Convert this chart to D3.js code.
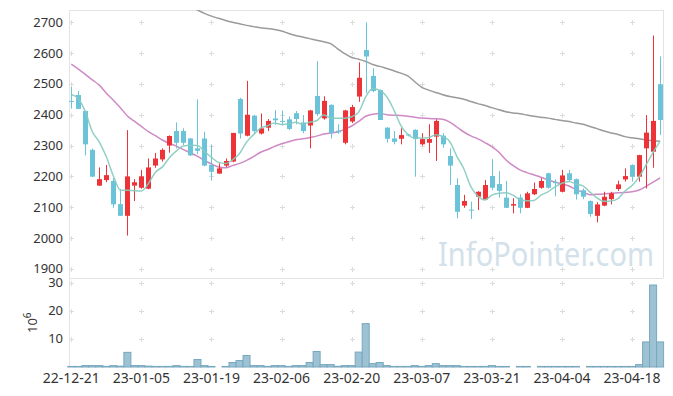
<!DOCTYPE html>
<html><head><meta charset="utf-8">
<script src="https://cdn.jsdelivr.net/npm/d3@7"></script>
<style>body{margin:0;background:#fff}svg{display:block}</style>
</head><body><svg id="c" width="673" height="396"></svg>
<script>
// ---- data ----
const dateLabels = ["22-12-21","23-01-05","23-01-19","23-02-06","23-02-20","23-03-07","23-03-21","23-04-04","23-04-18"];
const dateLabelIdx = [0,10,20,30,40,50,60,70,80];
const priceTicks = [1900,2000,2100,2200,2300,2400,2500,2600,2700];
const volTicks = [10,20,30];
const open  = [2445,2464,2412,2286,2170,2188,2185,2110,2072,2170,2163,2160,2235,2255,2300,2347,2347,2323,2291,2323,2237,2209,2235,2248,2451,2332,2397,2339,2358,2388,2380,2385,2405,2375,2365,2461,2388,2432,2348,2309,2378,2459,2610,2526,2480,2358,2323,2322,2336,2351,2304,2309,2329,2332,2266,2172,2105,2092,2134,2125,2201,2175,2131,2105,2131,2098,2142,2163,2210,2182,2150,2210,2191,2155,2120,2072,2105,2126,2159,2190,2237,2199,2291,2280,2499];
const high  = [2490,2477,2413,2290,2229,2237,2194,2159,2350,2191,2221,2258,2276,2291,2333,2375,2356,2325,2450,2345,2302,2242,2258,2341,2455,2510,2400,2404,2386,2415,2414,2394,2412,2399,2416,2574,2460,2434,2369,2416,2432,2570,2700,2551,2482,2360,2347,2356,2338,2353,2340,2369,2385,2340,2291,2194,2140,2118,2152,2188,2256,2217,2185,2129,2142,2150,2180,2194,2212,2190,2221,2221,2193,2161,2122,2116,2150,2150,2186,2226,2239,2270,2399,2657,2589];
const low   = [2420,2419,2268,2198,2169,2181,2098,2072,2008,2120,2160,2158,2228,2248,2277,2291,2302,2266,2272,2233,2186,2208,2230,2246,2323,2330,2337,2336,2347,2367,2365,2350,2369,2340,2291,2396,2384,2323,2338,2304,2373,2442,2470,2473,2383,2310,2304,2304,2330,2199,2300,2276,2250,2293,2172,2064,2098,2062,2091,2123,2155,2131,2097,2080,2080,2097,2139,2160,2160,2135,2148,2183,2125,2126,2069,2051,2103,2109,2153,2183,2183,2183,2161,2228,2334];
const close = [2444,2419,2304,2199,2191,2204,2109,2072,2200,2181,2200,2229,2258,2286,2331,2309,2309,2268,2283,2235,2215,2226,2250,2341,2339,2400,2347,2356,2380,2382,2377,2354,2386,2347,2414,2402,2445,2341,2343,2414,2425,2520,2589,2477,2383,2322,2312,2334,2333,2321,2321,2321,2380,2304,2235,2085,2120,2090,2150,2172,2163,2153,2098,2110,2098,2145,2159,2185,2163,2178,2203,2188,2142,2134,2078,2109,2134,2145,2174,2201,2199,2269,2342,2380,2383];
const volume = [0.2,0.2,0.5,0.5,0.5,0.2,0.5,0.3,5.2,0.5,0.5,0.3,0.2,0.2,0.2,0.5,0.2,0.2,2.65,0.5,0.2,0,0.2,1.6,2.3,4.1,0.5,0.5,0.2,0.5,0.5,0.2,0.5,0.5,1.6,5.5,0.85,0.85,0.25,0.5,0.5,5.3,15.4,1.2,1.6,0.5,0.2,0.2,0.2,0.5,0.2,0.5,1.2,0.5,0.5,0.5,0.2,0.2,0.2,0.2,0.5,0.2,0.2,0,0.2,0.2,0,0.2,0.2,0.2,0.2,0.2,0.2,0,0.2,0.2,0.2,0.2,0.2,0.2,0.2,0.85,8.9,29.1,8.9];
// 5-day average before enough closes exist
const ma5Lead = [2466,2453,2410,2345];
// 20-day average before enough closes exist
const ma20Lead = [2564,2548,2531,2513,2496,2470,2447,2423,2396,2379,2362,2345,2332,2318,2307,2298,2287,2276,2265];
// long average (grey line), starting at candle 17
const maLongStart = 17;
const maLong = [2752,2740,2729,2720,2713,2706,2700,2695,2690,2686,2682,2680,2677,2672,2664,2657,2652,2647,2642,2637,2631,2614,2598,2586,2580,2573,2563,2557,2550,2543,2535,2526,2507,2489,2480,2472,2465,2459,2455,2450,2443,2436,2430,2423,2416,2410,2406,2403,2399,2395,2392,2389,2385,2381,2378,2373,2369,2362,2355,2347,2341,2336,2329,2325,2322,2318,2316,2314];

// ---- layout ----
const L = 69, R = 663, T = 10, MID = 278, B = 367;
const svg = d3.select("#c");
const font = "'Noto Sans', sans-serif";
const n = close.length;
const x = d3.scaleLinear().domain([0, n - 1]).range([71.3, 660.1]);
const y = d3.scaleLinear().domain([2000, 2700]).range([238, 22.3]);
const yv = d3.scaleLinear().domain([0, 30]).range([B, 282.5]);

const ma5 = close.map((c, i) => i < 4 ? ma5Lead[i] : d3.mean(close.slice(i - 4, i + 1)));
const ma20 = close.map((c, i) => i < 19 ? ma20Lead[i] : d3.mean(close.slice(i - 19, i + 1)));

svg.append("defs").append("clipPath").attr("id", "pc")
  .append("rect").attr("x", L).attr("y", T).attr("width", R - L).attr("height", MID - T);

// borders
const bc = "#e3e3e3";
svg.append("line").attr("x1", L + .5).attr("x2", L + .5).attr("y1", T).attr("y2", B).attr("stroke", bc);
svg.append("line").attr("x1", R + .5).attr("x2", R + .5).attr("y1", T).attr("y2", MID).attr("stroke", bc);
svg.append("line").attr("x1", L).attr("x2", R).attr("y1", T + .5).attr("y2", T + .5).attr("stroke", bc);
svg.append("line").attr("x1", L).attr("x2", R).attr("y1", MID + .5).attr("y2", MID + .5).attr("stroke", bc);

// watermark
svg.append("text").attr("x", 438).attr("y", 266).text("InfoPointer.com")
  .attr("font-family", font).attr("font-size", 33).attr("fill", "#d2e1ea")
  .attr("textLength", 216).attr("lengthAdjust", "spacingAndGlyphs");

// grid crosses
const cross = (cx, cy) => {
  svg.append("path").attr("d", `M${cx - 2.5},${cy}H${cx + 2.5}M${cx},${cy - 2.5}V${cy + 2.5}`)
    .attr("stroke", "#dcdcdc").attr("stroke-width", 1);
};
const xs = dateLabelIdx.map(i => Math.round(x(i)) + .5);
priceTicks.forEach(p => xs.forEach(cx => cross(cx, Math.round(y(p)) + .5)));
volTicks.forEach(v => xs.forEach(cx => cross(cx, Math.round(yv(v)) + .5)));

// price axis labels
svg.append("g").selectAll("text").data(priceTicks).join("text")
  .attr("x", 63).attr("y", d => y(d)).attr("dy", "0.35em").attr("text-anchor", "end")
  .attr("font-family", font).attr("font-size", 13).attr("fill", "#333").text(d => d);
svg.append("g").selectAll("text").data(volTicks).join("text")
  .attr("x", 63).attr("y", d => yv(d)).attr("dy", "0.35em").attr("text-anchor", "end")
  .attr("font-family", font).attr("font-size", 13).attr("fill", "#333").text(d => d);
// 10^6
const u = svg.append("text").attr("transform", "translate(37,333) rotate(-90)")
  .attr("font-family", font).attr("font-size", 13).attr("fill", "#333");
u.append("tspan").text("10");
u.append("tspan").attr("dy", -6).attr("font-size", 10).text("6");

// date labels
svg.append("g").selectAll("text").data(dateLabels).join("text")
  .attr("x", (d, i) => x(dateLabelIdx[i])).attr("y", 383).attr("text-anchor", "middle")
  .attr("font-family", font).attr("font-size", 14).attr("fill", "#333").text(d => d);

// moving average lines
const g = svg.append("g").attr("clip-path", "url(#pc)");
const line = d3.line().defined(d => d[1] != null).x(d => x(d[0])).y(d => y(d[1])).curve(d3.curveMonotoneX);
g.append("path").attr("d", line(maLong.map((v, k) => [k + maLongStart, v])))
  .attr("fill", "none").attr("stroke", "#9a9a9a").attr("stroke-width", 1.5);
g.append("path").attr("d", line(ma20.map((v, i) => [i, v])))
  .attr("fill", "none").attr("stroke", "#cf8ac6").attr("stroke-width", 1.5);

// candles
const up = "#ee3338", dn = "#6ac3d9";
const idx = d3.range(n);
const cg = g.append("g");
cg.selectAll("line").data(idx).join("line")
  .attr("x1", i => Math.round(x(i)) + .5).attr("x2", i => Math.round(x(i)) + .5)
  .attr("y1", i => y(high[i])).attr("y2", i => y(low[i]))
  .attr("stroke", i => close[i] >= open[i] ? up : dn).attr("stroke-width", 1);
cg.selectAll("rect").data(idx).join("rect")
  .attr("x", i => Math.round(x(i)) - 2).attr("width", 5)
  .attr("y", i => y(Math.max(open[i], close[i])))
  .attr("height", i => Math.max(1, y(Math.min(open[i], close[i])) - y(Math.max(open[i], close[i]))))
  .attr("fill", i => close[i] >= open[i] ? up : dn);

g.append("path").attr("d", line(ma5.map((v, i) => [i, v])))
  .attr("fill", "none").attr("stroke", "#86cbbf").attr("stroke-width", 1.5).attr("opacity", 0.9);

// volume bars
const step = x(1) - x(0);
svg.append("g").selectAll("rect").data(idx.filter(i => volume[i] > 0)).join("rect")
  .attr("x", i => x(i) - step / 2).attr("width", step)
  .attr("y", i => yv(volume[i])).attr("height", i => B - yv(volume[i]))
  .attr("fill", "#9cc2d3").attr("stroke", "#78a8bf").attr("stroke-width", 1);
</script></body></html>
